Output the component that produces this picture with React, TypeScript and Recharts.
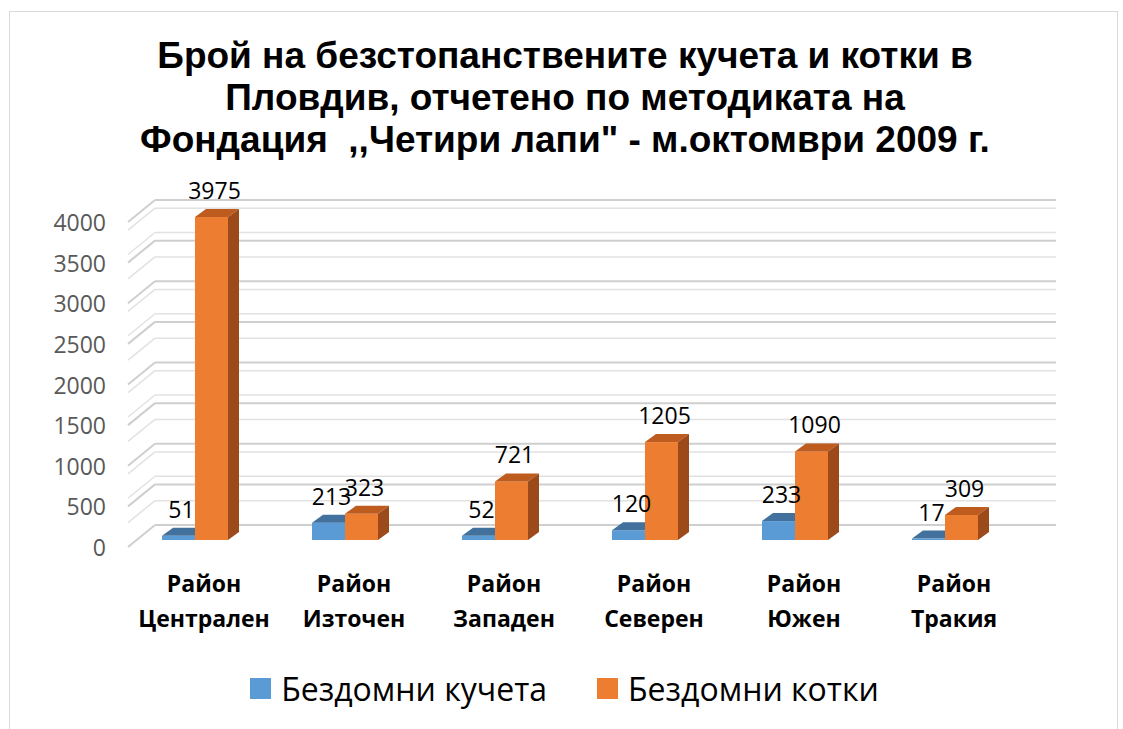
import React from 'react';
import {
  BarChart,
  Bar,
  XAxis,
  YAxis,
  CartesianGrid,
  Legend,
  LabelList
} from 'recharts';

const titleLines = [
  'Брой на безстопанствените кучета и котки в',
  'Пловдив, отчетено по методиката на',
  'Фондация  ,,Четири лапи" - м.октомври 2009 г.'
];

const categories = [
  'Район Централен',
  'Район Източен',
  'Район Западен',
  'Район Северен',
  'Район Южен',
  'Район Тракия'
];

const seriesNames = ['Бездомни кучета', 'Бездомни котки'];
const dogs = [51, 213, 52, 120, 233, 17];
const cats = [3975, 323, 721, 1205, 1090, 309];

const yTicks = [0, 500, 1000, 1500, 2000, 2500, 3000, 3500, 4000];
// faint wall lines every 100
const minorTicks = Array.from({ length: 40 }, (_, i) => i * 100).filter((v) => v % 500 !== 0);

const data = categories.map((name, i) => ({ name, dogs: dogs[i], cats: cats[i] }));

const W = 1123;
const H = 729;
const FONT = '"Open Sans", "Noto Sans", sans-serif';

// depth of the bars and of the wall
const DX = 11;
const DY = 8;

const wallLine = (p: any, color: string, sw: number) => {
  const { x1, x2, y1 } = p;
  return (
    <g key={`w-${y1}-${color}`}>
      <line x1={x1 + 8} y1={y1 + 7} x2={x1 + 35} y2={y1 - 15} stroke={color} strokeWidth={sw} />
      <line x1={x1 + 35} y1={y1 - 15} x2={x2 + 36} y2={y1 - 15} stroke={color} strokeWidth={sw} />
    </g>
  );
};

const Bar3D = (props: any) => {
  const { x, y, width, height, fill, top, side } = props;
  if (!height || height <= 0) return null;
  return (
    <g>
      <rect x={x} y={y} width={width} height={height} fill={fill} />
      <polygon
        points={`${x},${y} ${x + DX},${y - DY} ${x + width + DX},${y - DY} ${x + width},${y}`}
        fill={top}
      />
      <polygon
        points={`${x + width},${y} ${x + width + DX},${y - DY} ${x + width + DX},${y + height - DY} ${x + width},${y + height}`}
        fill={side}
      />
    </g>
  );
};

const renderValue = (props: any) => {
  const { x, y, width, value } = props;
  return (
    <text
      x={x + width / 2 + 3}
      y={y - 27}
      textAnchor="middle"
      dominantBaseline="central"
      fontFamily={FONT}
      fontSize={23}
      fill="#000"
    >
      {value}
    </text>
  );
};

const YTick = ({ y, payload }: any) => (
  <text
    x={106}
    y={y + 7}
    textAnchor="end"
    dominantBaseline="central"
    fontFamily={FONT}
    fontSize={23}
    fill="#595959"
  >
    {payload.value}
  </text>
);

const XTick = ({ x, y, payload }: any) => {
  const [first, ...rest] = String(payload.value).split(' ');
  return (
    <text
      x={x + 9}
      textAnchor="middle"
      fontFamily={FONT}
      fontWeight="bold"
      fontSize={23}
      fill="#000"
    >
      <tspan x={x + 9} y={y + 44}>{first}</tspan>
      <tspan x={x + 9} y={y + 79}>{rest.join(' ')}</tspan>
    </text>
  );
};

const LegendContent = ({ payload }: any) => {
  const items = [...(payload || [])].sort(
    (a: any, b: any) => seriesNames.indexOf(a.value) - seriesNames.indexOf(b.value)
  );
  return (
    <div
      style={{
        display: 'flex',
        justifyContent: 'center',
        alignItems: 'center',
        gap: 50,
        fontFamily: FONT,
        fontSize: 32,
        color: '#000',
        paddingLeft: 6
      }}
    >
      {items.map((entry: any) => (
        <div key={entry.value} style={{ display: 'flex', alignItems: 'center' }}>
          <span
            style={{ display: 'inline-block', width: 21, height: 21, background: entry.color, marginRight: 10 }}
          />
          <span>{entry.value}</span>
        </div>
      ))}
    </div>
  );
};

export default function App() {
  return (
    <div style={{ position: 'absolute', left: 0, top: 0, width: W, height: H, background: '#fff' }}>
      <svg width={W} height={H} style={{ position: 'absolute', left: 0, top: 0 }}>
        <rect x={9.5} y={11.5} width={1108} height={740} fill="none" stroke="#D9D9D9" />
        {titleLines.map((line, i) => (
          <text
            key={i}
            x={565}
            y={68 + i * 42}
            textAnchor="middle"
            fontFamily='"Liberation Sans", Arial, sans-serif'
            fontWeight="bold"
            fontSize={37}
            fill="#000"
            style={{ whiteSpace: 'pre' }}
          >
            {line}
          </text>
        ))}
      </svg>
      <div style={{ position: 'absolute', left: 0, top: 0 }}>
        <BarChart
          width={W}
          height={H}
          data={data}
          margin={{ top: 215, right: 103, bottom: 159, left: 0 }}
          barGap={0}
          barCategoryGap={42}
        >
          <CartesianGrid
            vertical={false}
            horizontalValues={minorTicks}
            horizontal={(p: any) => wallLine(p, '#E2E2E2', 1.5)}
          />
          <CartesianGrid vertical={false} horizontal={(p: any) => wallLine(p, '#CFCFCF', 2)} />
          <XAxis dataKey="name" height={30} axisLine={false} tickLine={false} interval={0} tick={<XTick />} />
          <YAxis
            width={120}
            domain={[0, 4000]}
            ticks={yTicks}
            axisLine={false}
            tickLine={false}
            tick={<YTick />}
          />
          <Legend
            layout="horizontal"
            verticalAlign="middle"
            align="center"
            content={<LegendContent />}
            wrapperStyle={{ top: 667, left: 0, width: W }}
          />
          <Bar
            dataKey="dogs"
            name={seriesNames[0]}
            fill="#5B9BD5"
            barSize={33}
            isAnimationActive={false}
            shape={(p: any) => <Bar3D {...p} top="#41719C" side="#3A6894" />}
          >
            <LabelList dataKey="dogs" content={renderValue} />
          </Bar>
          <Bar
            dataKey="cats"
            name={seriesNames[1]}
            fill="#ED7D31"
            barSize={33}
            isAnimationActive={false}
            shape={(p: any) => <Bar3D {...p} top="#BE5B1F" side="#9C4A1A" />}
          >
            <LabelList dataKey="cats" content={renderValue} />
          </Bar>
        </BarChart>
      </div>
    </div>
  );
}
